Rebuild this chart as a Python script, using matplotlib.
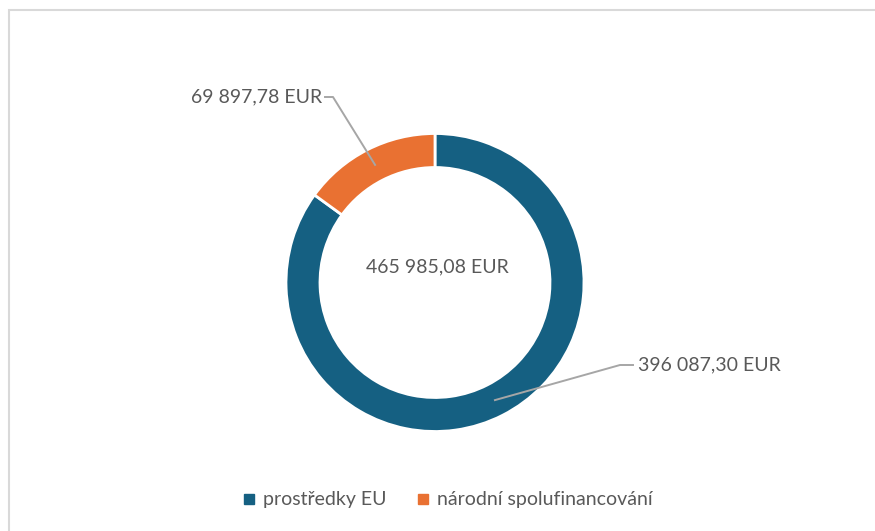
import numpy as np
import matplotlib
matplotlib.use("Agg")
import matplotlib.pyplot as plt
from matplotlib.lines import Line2D
from matplotlib.patches import Rectangle

categories = ["prostředky EU", "národní spolufinancování"]
values = [396087.30, 69897.78]
value_labels = ["396 087,30 EUR", "69 897,78 EUR"]
total_label = "465 985,08 EUR"
colors = ["#156082", "#E97132"]

TEXT = "#595959"
LEADER = "#A6A6A6"
W, H = 875, 531
CX, CY = 435, H - 282.5
R_OUT, RING = 149, 34
FS = 14

plt.rcParams["font.family"] = ["Lato", "DejaVu Sans"]

fig = plt.figure(figsize=(W / 100, H / 100), dpi=100)
ax = fig.add_axes([0, 0, 1, 1])

wedges, _ = ax.pie(values, radius=R_OUT, center=(CX, CY), startangle=90,
                   counterclock=False, colors=colors, frame=True,
                   wedgeprops=dict(width=RING, edgecolor="white", linewidth=2))
ax.set_xlim(0, W)
ax.set_ylim(0, H)
ax.set_aspect("equal")
ax.axis("off")

# chart frame: only top and left edges are inside the picture
ax.add_patch(Rectangle((8.5, -10), W, H - 9.5 + 10, fill=False,
                       edgecolor="#D9D9D9", linewidth=1.5))

ax.text(CX + 2, H - 267, total_label, ha="center", va="center",
        fontsize=FS, color=TEXT)

# data labels with leader lines
r_mid = R_OUT - RING / 2
label_pos = [(633, H - 365, "left"), (332, H - 97, "right")]
for w, txt, (lx, ly, ha) in zip(wedges, value_labels, label_pos):
    ang = np.deg2rad((w.theta1 + w.theta2) / 2)
    px, py = CX + r_mid * np.cos(ang), CY + r_mid * np.sin(ang)
    if ha == "left":
        ax.plot([px, lx - 13, lx], [py, ly, ly], color=LEADER, lw=1.4)
        ax.text(lx + 5, ly, txt, ha="left", va="center", fontsize=FS, color=TEXT)
    else:
        ax.plot([px, lx + 1, lx - 7], [py, ly, ly], color=LEADER, lw=1.4)
        ax.text(lx - 10, ly, txt, ha="right", va="center", fontsize=FS, color=TEXT)

handles = [Line2D([], [], marker="s", linestyle="none", markersize=7,
                  markerfacecolor=c, markeredgecolor=c) for c in colors]
ax.legend(handles, categories, loc="center", bbox_to_anchor=(445 / W, 1 - 500 / H),
          ncol=2, frameon=False, fontsize=FS, labelcolor=TEXT,
          handletextpad=0.1, columnspacing=1.3, handlelength=1.2)

fig.savefig("out.png", dpi=100)
